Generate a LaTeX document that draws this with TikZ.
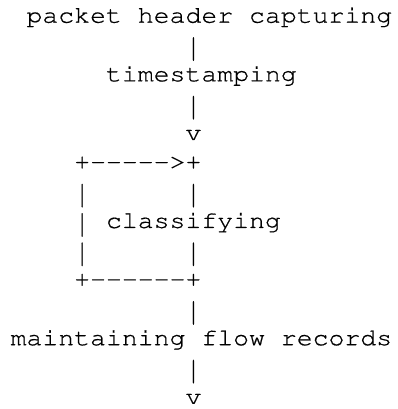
\documentclass[tikz,border=0pt]{standalone}
\usepackage[T1]{fontenc}
\usepackage{courier}
\begin{document}
\begin{tikzpicture}[x=1pt,y=-1pt,
  asc/.style={anchor=base west, inner sep=0pt, outer sep=0pt,
    font=\ttfamily\fontsize{24}{29}\selectfont}]
\def\cw{15.9}
\def\xo{10.6}
\def\by{22.7}
\def\ls{29.32}
\newcommand{\sx}[1]{\special{pdf:literal direct 2 Tr 0.15 w}\scalebox{1.104}[1]{#1}\special{pdf:literal direct 0 Tr}}
\newcommand{\vb}{\raisebox{-0.2em}{\scalebox{1}[1.35]{|}}}
\fill[white] (0,0) rectangle (398,409);
\useasboundingbox (0,0) rectangle (398,409);
\node[asc] (l1)  at ({\xo+1*\cw},{\by+0*\ls})  {\sx{packet header capturing}};
\node[asc] (l2)  at ({\xo+11*\cw},{\by+1*\ls}) {\sx{\vb}};
\node[asc] (l3)  at ({\xo+6*\cw},{\by+2*\ls})  {\sx{timestamping}};
\node[asc] (l4)  at ({\xo+11*\cw},{\by+3*\ls}) {\sx{\vb}};
\node[asc] (l5)  at ({\xo+11*\cw},{\by+4*\ls}) {\sx{v}};
\node[asc] (l6)  at ({\xo+4*\cw},{\by+5*\ls})  {\sx{+{-}{-}{-}{-}{-}>+}};
\node[asc] (l7)  at ({\xo+4*\cw},{\by+6*\ls})  {\sx{\vb~~~~~~\vb}};
\node[asc] (l8)  at ({\xo+4*\cw},{\by+7*\ls})  {\sx{\vb~classifying}};
\node[asc] (l9)  at ({\xo+4*\cw},{\by+8*\ls})  {\sx{\vb~~~~~~\vb}};
\node[asc] (l10) at ({\xo+4*\cw},{\by+9*\ls})  {\sx{+{-}{-}{-}{-}{-}{-}+}};
\node[asc] (l11) at ({\xo+11*\cw},{\by+10*\ls}) {\sx{\vb}};
\node[asc] (l12) at ({\xo+0*\cw},{\by+11*\ls}) {\sx{maintaining flow records}};
\node[asc] (l13) at ({\xo+11*\cw},{\by+12*\ls}) {\sx{\vb}};
\node[asc] (l14) at ({\xo+11*\cw},{\by+13*\ls}) {\sx{v}};
\end{tikzpicture}
\end{document}
